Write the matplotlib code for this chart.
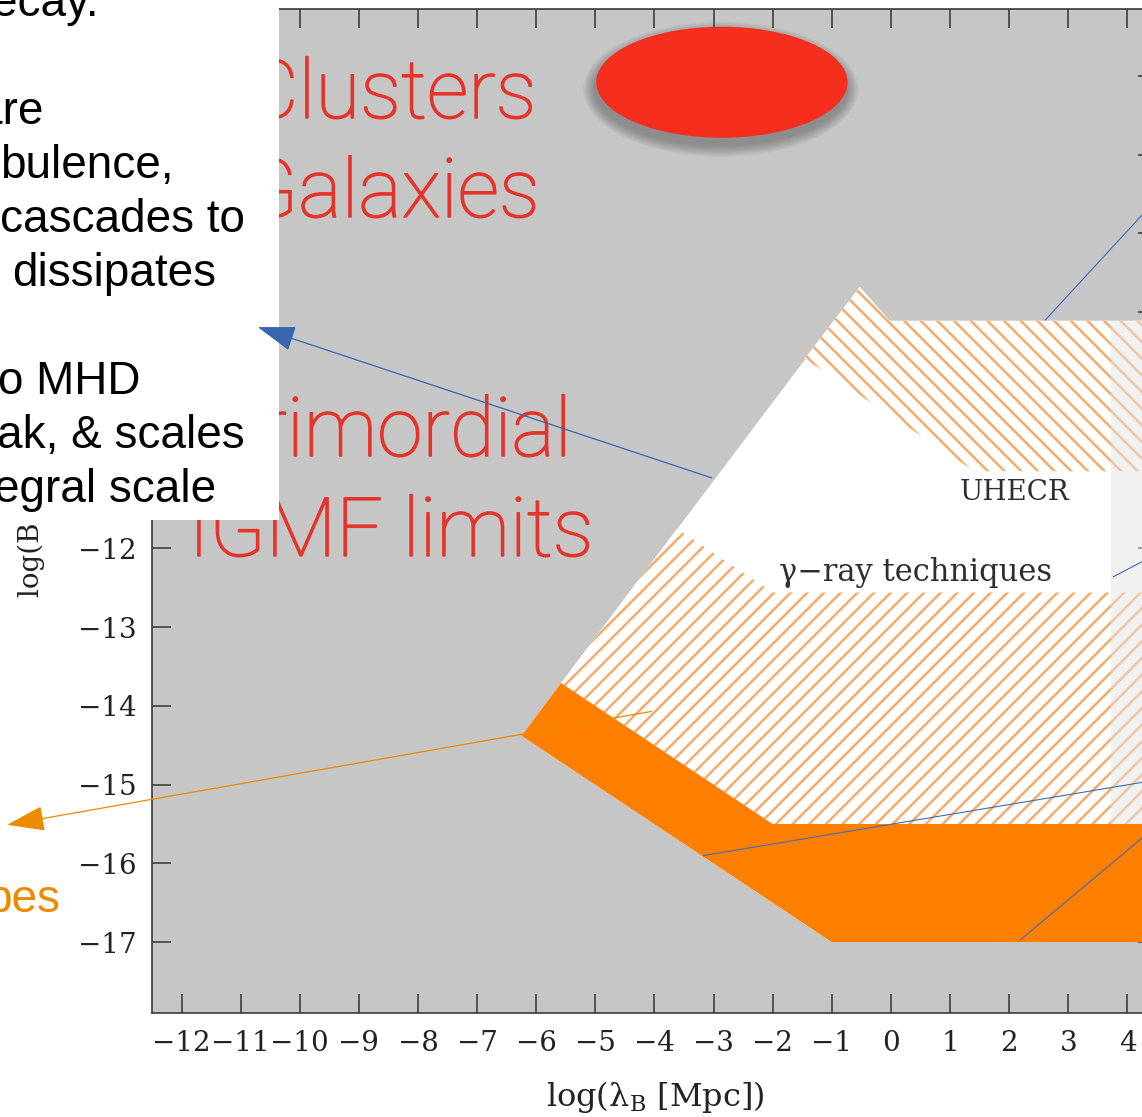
import matplotlib
matplotlib.use("Agg")
import matplotlib.pyplot as plt
import matplotlib.patheffects as pe
from matplotlib.patches import Polygon, Ellipse, Rectangle, FancyArrowPatch

W, H = 1142, 1117

# axes ticks (log lambda_B [Mpc], log B)
x_ticks = list(range(-12, 5))
y_ticks = list(range(-17, -5))

# outline of the whole allowed region
outline_x = [-6.25, -1.0, 4.5, 4.5, -0.02, -0.53]
outline_y = [-14.38, -17.0, -17.0, -9.11, -9.11, -8.68]
# solid orange band (telescopes)
solid_x = [-6.25, -1.0, 4.5, 4.5, -2.0, -5.58]
solid_y = [-14.38, -17.0, -17.0, -15.5, -15.5, -13.71]
# hatched band below gamma-ray label
gamma_x = [-5.58, -2.0, 4.5, 4.5, -2.0, -3.62]
gamma_y = [-13.71, -15.5, -15.5, -12.56, -12.56, -11.75]
# hatched band above UHECR label
uhecr_x = [-1.46, 1.41, 4.5, 4.5, -0.02, -0.53]
uhecr_y = [-9.59, -11.02, -11.02, -9.11, -9.11, -8.68]
# faded strip on the right
fade_x = [3.73, 4.5]
fade_y = [-15.5, -9.11]

# red blob (clusters / galaxies)
blob_center = (-2.86, -6.08)
blob_size = (4.25, 1.41)

# thin blue pointer lines
blue_lines_x = [[2.61, 4.5], [3.76, 4.5], [-3.17, 4.5], [2.19, 4.5]]
blue_lines_y = [[-9.10, -7.56], [-12.36, -12.07], [-15.90, -14.94], [-16.97, -15.52]]
blue_arrow = [(-3.03, -11.105), (-10.71, -9.19)]
orange_arrow = [(-4.05, -14.07), (-14.95, -15.51)]

box_lines = ["ecay.", "are", "bulence,", "cascades to", "dissipates",
             "o MHD", "ak, & scales", "egral scale"]
red_labels = ["Clusters", "Galaxies", "Primordial", "IGMF limits"]

plt.rcParams['font.family'] = ['DejaVu Serif']
plt.rcParams['mathtext.fontset'] = 'dejavuserif'
plt.rcParams['hatch.linewidth'] = 1.8

fig = plt.figure(figsize=(W / 100, H / 100), dpi=100)
ax = fig.add_axes([152 / W, 1 - 1013 / H, (1157 - 152) / W, (1013 - 9) / H])
ax.set_xlim(-12.5, 4.5)
ax.set_ylim(-17.9, -5.15)
ax.set_facecolor('#c6c6c6')

hatch_col = '#f5ab6c'
ax.add_patch(Polygon(list(zip(outline_x, outline_y)), closed=True,
                     facecolor='white', edgecolor='none', zorder=1))
ax.add_patch(Polygon(list(zip(gamma_x, gamma_y)), closed=True, facecolor='white',
                     edgecolor=hatch_col, lw=0, hatch='//', zorder=2))
ax.add_patch(Polygon(list(zip(uhecr_x, uhecr_y)), closed=True, facecolor='white',
                     edgecolor=hatch_col, lw=0, hatch='\\\\', zorder=2))
ax.add_patch(Polygon(list(zip(solid_x, solid_y)), closed=True,
                     facecolor='#ff8000', edgecolor='none', zorder=2))
ax.add_patch(Rectangle((fade_x[0], fade_y[0]), fade_x[1] - fade_x[0], fade_y[1] - fade_y[0],
                       facecolor='#e4e4e4', alpha=0.5, lw=0, zorder=3))

# blob with soft shadow, shadow falls a little downwards
for k in range(9, 0, -1):
    ax.add_patch(Ellipse((blob_center[0] - 0.02, blob_center[1] - 0.09),
                         blob_size[0] + 0.045 * k, blob_size[1] + 0.034 * k,
                         facecolor='#3a3a3a', alpha=0.05, lw=0, zorder=3))
ax.add_patch(Ellipse(blob_center, blob_size[0], blob_size[1],
                     facecolor='#f52e1e', lw=0, zorder=4))

for xs, ys in zip(blue_lines_x, blue_lines_y):
    ax.plot(xs, ys, color='#3c6cb4', lw=0.8, zorder=5)

ax.set_xticks(x_ticks)
ax.set_yticks(y_ticks)
ax.tick_params(direction='in', length=14, width=1.1, color='#333333',
               top=True, right=True, labelsize=20, labelcolor='#222222')
ax.tick_params(axis='x', pad=12)
ax.tick_params(axis='y', pad=11)
for s in ax.spines.values():
    s.set_color('#3a3a3a')
    s.set_linewidth(1.2)

fig.text(655 / W, 1 - 1097 / H, r"log(λ$_\mathrm{B}$ [Mpc])", ha='center', va='center',
         fontsize=23, color='#222222')
fig.text(31 / W, 1 - 597 / H, "log(B [G])", rotation=90, ha='center', va='bottom',
         fontsize=20, color='#222222', zorder=1)

fig.text(1015 / W, 1 - 492 / H, "UHECR", ha='center', va='center', fontsize=20,
         color='#2e2e2e', zorder=1)
fig.text(916 / W, 1 - 573 / H, "γ\u2212ray techniques", ha='center', va='center',
         fontsize=22, color='#2e2e2e', zorder=1)

red_base = [118, 217, 456, 556]
for label, yb in zip(red_labels, red_base):
    fig.text(391 / W, 1 - yb / H, label, ha='center', va='baseline', fontsize=59,
             family=['Roboto', 'Liberation Sans'], fontweight='light', color='#e5342a', zorder=1,
             path_effects=[pe.withStroke(linewidth=1.0, foreground='#e5342a')])

# white text box of the slide on top of the chart
fig.add_artist(Rectangle((0, 1 - 520 / H), 279 / W, 520 / H, transform=fig.transFigure,
                         facecolor='white', edgecolor='none', zorder=2))
box_left = [-8, -23, 0, 0, 12, -2, -3, -6]
box_base = [16, 124, 178, 232, 286, 394, 448, 502]
for line, xl, yb in zip(box_lines, box_left, box_base):
    fig.text(xl / W, 1 - yb / H, line, ha='left', va='baseline', fontsize=33,
             family='Liberation Sans', color='black', zorder=3)

fig.text(-14 / W, 1 - 912 / H, "pes", ha='left', va='baseline', fontsize=33,
         family='Liberation Sans', color='#ec8a00', zorder=3)

fig.add_artist(FancyArrowPatch(blue_arrow[0], blue_arrow[1], transform=ax.transData,
                               arrowstyle='-|>,head_length=24,head_width=8', mutation_scale=1,
                               shrinkA=0, shrinkB=0, lw=0.9, color='#3566ae', zorder=4))
fig.add_artist(FancyArrowPatch(orange_arrow[0], orange_arrow[1], transform=ax.transData,
                               arrowstyle='-|>,head_length=24,head_width=8', mutation_scale=1,
                               shrinkA=0, shrinkB=0, lw=0.9, color='#ec8a00', zorder=4))

fig.savefig('out.png', dpi=100)
